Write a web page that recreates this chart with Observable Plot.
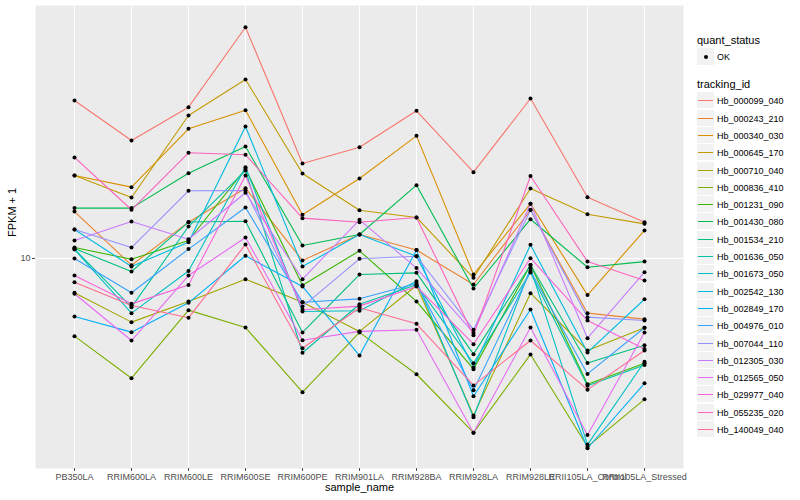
<!DOCTYPE html>
<html><head><meta charset="utf-8">
<script src="https://cdn.jsdelivr.net/npm/d3@7"></script>
<script src="https://cdn.jsdelivr.net/npm/@observablehq/plot@0.6"></script>
<style>
body{margin:0;background:#fff;font-family:"Liberation Sans",Arial,Helvetica,sans-serif;}
#wrap{position:relative;width:800px;height:500px;overflow:hidden;}
#legend{position:absolute;left:0;top:0;width:800px;height:500px;pointer-events:none;}
#legend div{position:absolute;white-space:nowrap;}
</style></head><body>
<div id="wrap"><div id="chart"></div><div id="legend"></div></div>
<script>
const samples = ["PB350LA","RRIM600LA","RRIM600LE","RRIM600SE","RRIM600PE","RRIM901LA","RRIM928BA","RRIM928LA","RRIM928LE","RRII105LA_Control","RRII105LA_Stressed"];
const trackingIds = ["Hb_000099_040","Hb_000243_210","Hb_000340_030","Hb_000645_170","Hb_000710_040","Hb_000836_410","Hb_001231_090","Hb_001430_080","Hb_001534_210","Hb_001636_050","Hb_001673_050","Hb_002542_130","Hb_002849_170","Hb_004976_010","Hb_007044_110","Hb_012305_030","Hb_012565_050","Hb_029977_040","Hb_055235_020","Hb_140049_040"];
const colors = ["#F8766D","#EA8331","#D89000","#C09B00","#A3A500","#7CAE00","#39B600","#00BB4E","#00BF7D","#00C1A3","#00BFC4","#00BAE0","#00B0F6","#35A2FF","#9590FF","#C77CFF","#E76BF3","#FA62DB","#FF62BC","#FF6C91"];
const yTicks = [10];

// FPKM + 1 per sample (same order as samples)
const v000099_040 = [28.28, 21.73, 27.06, 45.80, 18.68, 20.80, 26.43, 17.65, 28.65, 14.97, 12.70];
const v000243_210 = [13.62, 9.57, 12.70, 15.88, 9.87, 11.71, 10.57, 8.43, 13.76, 6.98, 6.71];
const v000340_030 = [17.27, 15.99, 23.47, 26.53, 13.33, 16.93, 22.41, 9.00, 14.34, 7.86, 12.03];
const v000645_170 = [17.27, 14.94, 25.62, 32.47, 17.50, 13.74, 13.10, 8.81, 15.85, 13.38, 12.56];
const v000710_040 = [7.98, 6.58, 7.54, 8.73, 7.50, 6.19, 8.37, 3.56, 7.96, 5.46, 6.34];
const v000836_410 = [6.00, 4.55, 7.12, 6.35, 4.15, 6.15, 4.67, 3.18, 5.32, 2.90, 3.96];
const v001231_090 = [10.75, 9.95, 11.26, 18.04, 8.39, 10.52, 7.54, 4.83, 9.58, 4.37, 5.02];
const v001430_080 = [13.93, 13.93, 17.53, 20.89, 10.89, 11.71, 16.20, 8.21, 12.95, 9.44, 9.80];
const v001534_210 = [10.68, 9.18, 12.71, 12.78, 6.15, 9.00, 9.10, 5.33, 9.58, 5.03, 5.65];
const v001636_050 = [10.64, 7.26, 12.34, 17.84, 5.38, 7.40, 8.41, 5.02, 9.12, 4.33, 4.96];
const v001673_050 = [10.61, 6.98, 9.21, 18.24, 7.06, 7.09, 8.61, 3.52, 9.39, 2.94, 5.07];
const v002542_130 = [12.10, 9.49, 11.13, 23.83, 9.49, 11.71, 10.15, 4.88, 10.94, 5.39, 7.65];
const v002849_170 = [6.83, 6.16, 7.47, 10.18, 8.32, 5.28, 10.57, 4.04, 7.15, 2.87, 4.40];
const v004976_010 = [10.00, 7.98, 10.64, 13.99, 7.50, 7.67, 8.48, 4.20, 9.21, 4.68, 6.34];
const v007044_110 = [12.10, 10.75, 15.61, 15.64, 7.29, 9.98, 10.15, 6.26, 13.76, 6.80, 6.65];
const v012305_030 = [11.26, 12.75, 11.35, 15.41, 8.73, 12.90, 9.39, 6.13, 14.34, 5.92, 9.14];
const v012565_050 = [7.93, 5.83, 8.94, 11.48, 5.84, 6.19, 6.26, 3.18, 6.35, 3.13, 6.15];
const v029977_040 = [8.94, 7.42, 8.40, 17.27, 7.14, 7.31, 8.32, 5.69, 10.02, 6.65, 5.51];
const v055235_020 = [19.44, 13.78, 20.05, 19.79, 13.04, 12.70, 13.10, 6.04, 17.21, 9.80, 8.65];
const v140049_040 = [8.56, 7.34, 6.77, 10.97, 5.54, 7.23, 6.51, 4.34, 5.83, 4.22, 5.46];

const seriesValues = [v000099_040, v000243_210, v000340_030, v000645_170, v000710_040, v000836_410, v001231_090, v001430_080, v001534_210, v001636_050, v001673_050, v002542_130, v002849_170, v004976_010, v007044_110, v012305_030, v012565_050, v029977_040, v055235_020, v140049_040];

const data = [];
seriesValues.forEach((arr, i) => arr.forEach((v, j) => data.push({tracking_id: trackingIds[i], sample_name: samples[j], fpkm: v, quant_status: "OK"})));

const font = "Liberation Sans, Arial, Helvetica, sans-serif";
const chart = Plot.plot({
  width: 800, height: 500,
  marginLeft: 35, marginRight: 117, marginTop: 5, marginBottom: 32,
  style: {fontFamily: font, background: "white", overflow: "visible"},
  x: {type: "point", domain: samples, padding: 0.6, label: null},
  y: {type: "log", domain: [2.512, 52.83], label: null},
  color: {domain: trackingIds, range: colors},
  marks: [
    Plot.frame({fill: "#EBEBEB", stroke: "none"}),
    Plot.gridX({stroke: "white", strokeOpacity: 1, strokeWidth: 1.1}),
    Plot.gridY({ticks: yTicks, stroke: "white", strokeOpacity: 1, strokeWidth: 1.1}),
    Plot.line(data, {x: "sample_name", y: "fpkm", z: "tracking_id", stroke: "tracking_id", strokeWidth: 1.1}),
    Plot.dot(data, {x: "sample_name", y: "fpkm", r: 2, fill: "black", stroke: "none"}),
    Plot.axisX({tickSize: 3, tickPadding: 2, fontSize: 9, color: "#4D4D4D", label: null}),
    Plot.axisY({ticks: yTicks, tickFormat: d => String(d), tickSize: 3, tickPadding: 2, fontSize: 9, color: "#4D4D4D", label: null}),
    Plot.text(["sample_name"], {text: d => d, frameAnchor: "bottom", dy: 22, fontSize: 11, fill: "black"}),
    Plot.text(["FPKM + 1"], {text: d => d, frameAnchor: "left", dx: -23, rotate: -90, fontSize: 11, fill: "black"})
  ]
});
document.getElementById("chart").appendChild(chart);

// legend
const lg = document.getElementById("legend");
function add(style, text) {
  const d = document.createElement("div");
  Object.assign(d.style, style);
  if (text != null) d.textContent = text;
  lg.appendChild(d);
  return d;
}
add({left: "697px", top: "34px", fontSize: "11px", lineHeight: "12px", color: "#000"}, "quant_status");
add({left: "697px", top: "48px", width: "17px", height: "17px", background: "#F2F2F2"});
add({left: "703.5px", top: "54.5px", width: "4px", height: "4px", borderRadius: "50%", background: "#000"});
add({left: "717px", top: "52px", fontSize: "9px", lineHeight: "10px", color: "#000"}, "OK");
add({left: "697px", top: "77.5px", fontSize: "11px", lineHeight: "12px", color: "#000"}, "tracking_id");
trackingIds.forEach((id, i) => {
  const top = Math.round(92.3 + 17.3 * i);
  add({left: "697px", top: top + "px", width: "17px", height: "16px", background: "#F2F2F2"});
  add({left: "698px", top: (top + 8) + "px", width: "15px", height: "1px", background: colors[i]});
  add({left: "717px", top: (top + 3.5) + "px", fontSize: "9px", lineHeight: "10px", color: "#000"}, id);
});
</script>
</body></html>
